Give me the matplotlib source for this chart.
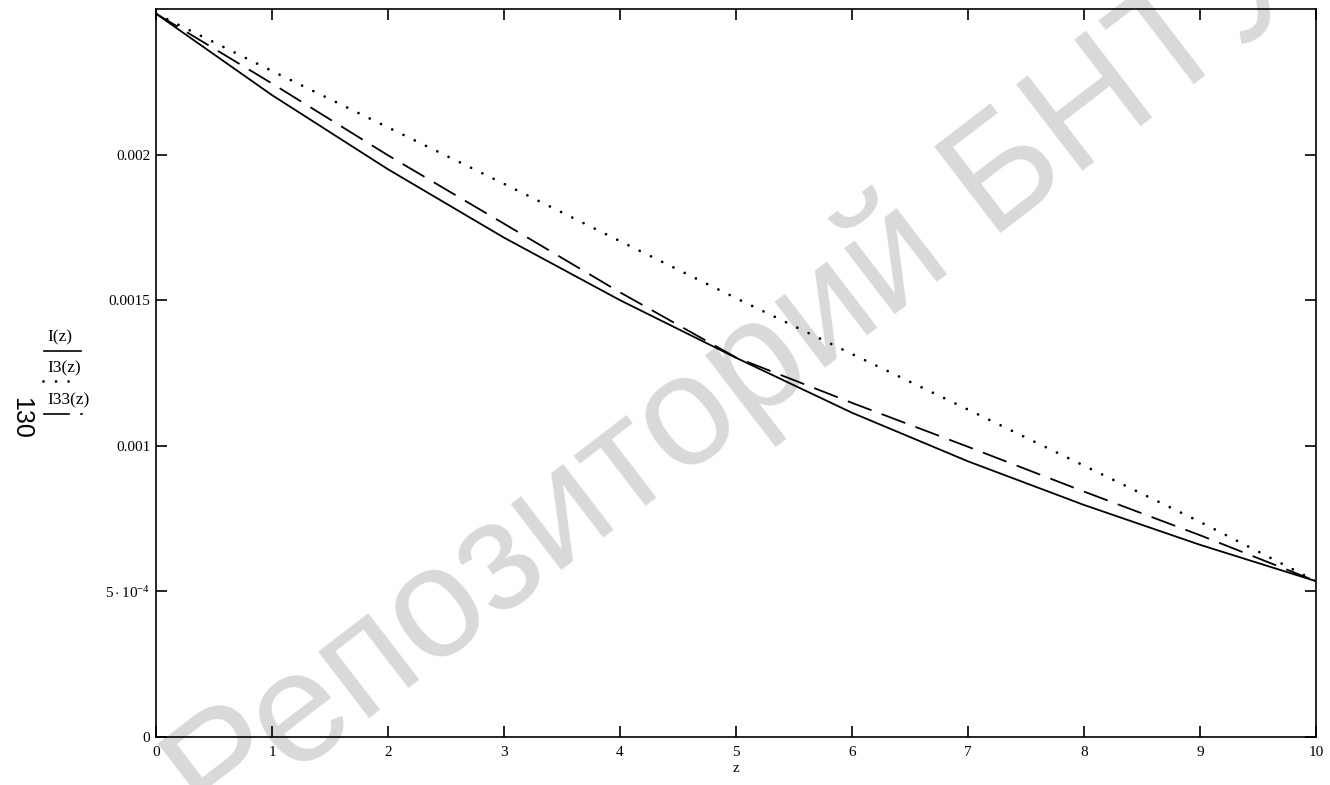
import matplotlib
matplotlib.use("Agg")
import matplotlib.pyplot as plt
from matplotlib.lines import Line2D

# --- data -----------------------------------------------------------------
z = [0, 1, 2, 3, 4, 5, 6, 7, 8, 9, 10]
I_z = [2.485e-3, 2.205e-3, 1.950e-3, 1.715e-3, 1.500e-3, 1.302e-3,
       1.113e-3, 0.946e-3, 0.796e-3, 0.659e-3, 0.534e-3]
I3_z = [2.485e-3, 2.288e-3, 2.094e-3, 1.900e-3, 1.703e-3, 1.507e-3,
        1.315e-3, 1.124e-3, 0.931e-3, 0.738e-3, 0.534e-3]
I33_z = [2.485e-3, 2.245e-3, 1.998e-3, 1.763e-3, 1.527e-3, 1.303e-3,
         1.147e-3, 0.996e-3, 0.842e-3, 0.692e-3, 0.534e-3]

x_ticks = list(range(0, 11))
y_ticks = [0, 5e-4, 1e-3, 1.5e-3, 2e-3]
y_tick_labels = ["0", r"$5\cdot10^{-4}$", "0.001", "0.0015", "0.002"]
series_labels = ["I(z)", "I3(z)", "I33(z)"]

# --- style ----------------------------------------------------------------
plt.rcParams["font.family"] = ["Liberation Serif", "DejaVu Serif"]
plt.rcParams["mathtext.fontset"] = "custom"
plt.rcParams["mathtext.rm"] = "Liberation Serif"
plt.rcParams["mathtext.it"] = "Liberation Serif"

W, H = 1330, 785
fig = plt.figure(figsize=(W / 100, H / 100), dpi=100)

# background watermark
fig.text(740 / W, 1 - 380 / H, "Репозиторий БНТУ", rotation=37.5,
         ha="center", va="center", fontsize=113, color="#d9d9d9",
         family=["Liberation Sans", "DejaVu Sans"], zorder=-5)

left, right, bottom, top = 156, 1316, 736.5, 9.3
ax = fig.add_axes([left / W, 1 - bottom / H, (right - left) / W, (bottom - top) / H])
ax.set_facecolor("none")

lw = 1.3
dots = (0, (0.01, 4.5))
ax.plot(z, I_z, color="black", lw=lw, solid_capstyle="butt")
ax.plot(z, I3_z, color="black", lw=2.0, linestyle=dots, dash_capstyle="round")
ax.plot(z, I33_z, color="black", lw=lw, linestyle=(0, (14, 6)))

ax.set_xlim(0, 10)
ax.set_ylim(0, 0.0025)
ax.set_xticks(x_ticks)
ax.set_xticklabels([str(t) for t in x_ticks])
ax.set_yticks(y_ticks)
ax.set_yticklabels(y_tick_labels)
ax.tick_params(direction="in", length=8, width=1.2, labelsize=11,
               top=True, right=True, pad=4)
ax.tick_params(axis="x", pad=7)
for s in ax.spines.values():
    s.set_linewidth(1.2)

ax.set_xlabel("z", fontsize=11, labelpad=2)

# series captions stacked on the left, each over a sample of its line style
fs = 12.5
cap_x = 47 / W
fig.text(cap_x, 1 - 337 / H, series_labels[0], fontsize=fs, va="center", ha="left")
fig.add_artist(Line2D([44 / W, 81 / W], [1 - 351 / H] * 2, color="black", lw=1.2))
fig.text(cap_x, 1 - 368 / H, series_labels[1], fontsize=fs, va="center", ha="left")
fig.add_artist(Line2D([43 / W, 77 / W], [1 - 381 / H] * 2, color="black", lw=2.0,
                      linestyle=dots, dash_capstyle="round"))
fig.text(cap_x, 1 - 400 / H, series_labels[2], fontsize=fs, va="center", ha="left")
fig.add_artist(Line2D([44 / W, 69 / W], [1 - 414 / H] * 2, color="black", lw=1.2))
fig.add_artist(Line2D([81 / W, 82 / W], [1 - 414 / H] * 2, color="black", lw=1.2))

# page number
fig.text(21 / W, 1 - 418 / H, "130", rotation=-90, ha="center", va="center",
         fontsize=18, family=["Liberation Sans", "DejaVu Sans"])

fig.savefig("out.png", dpi=100)
